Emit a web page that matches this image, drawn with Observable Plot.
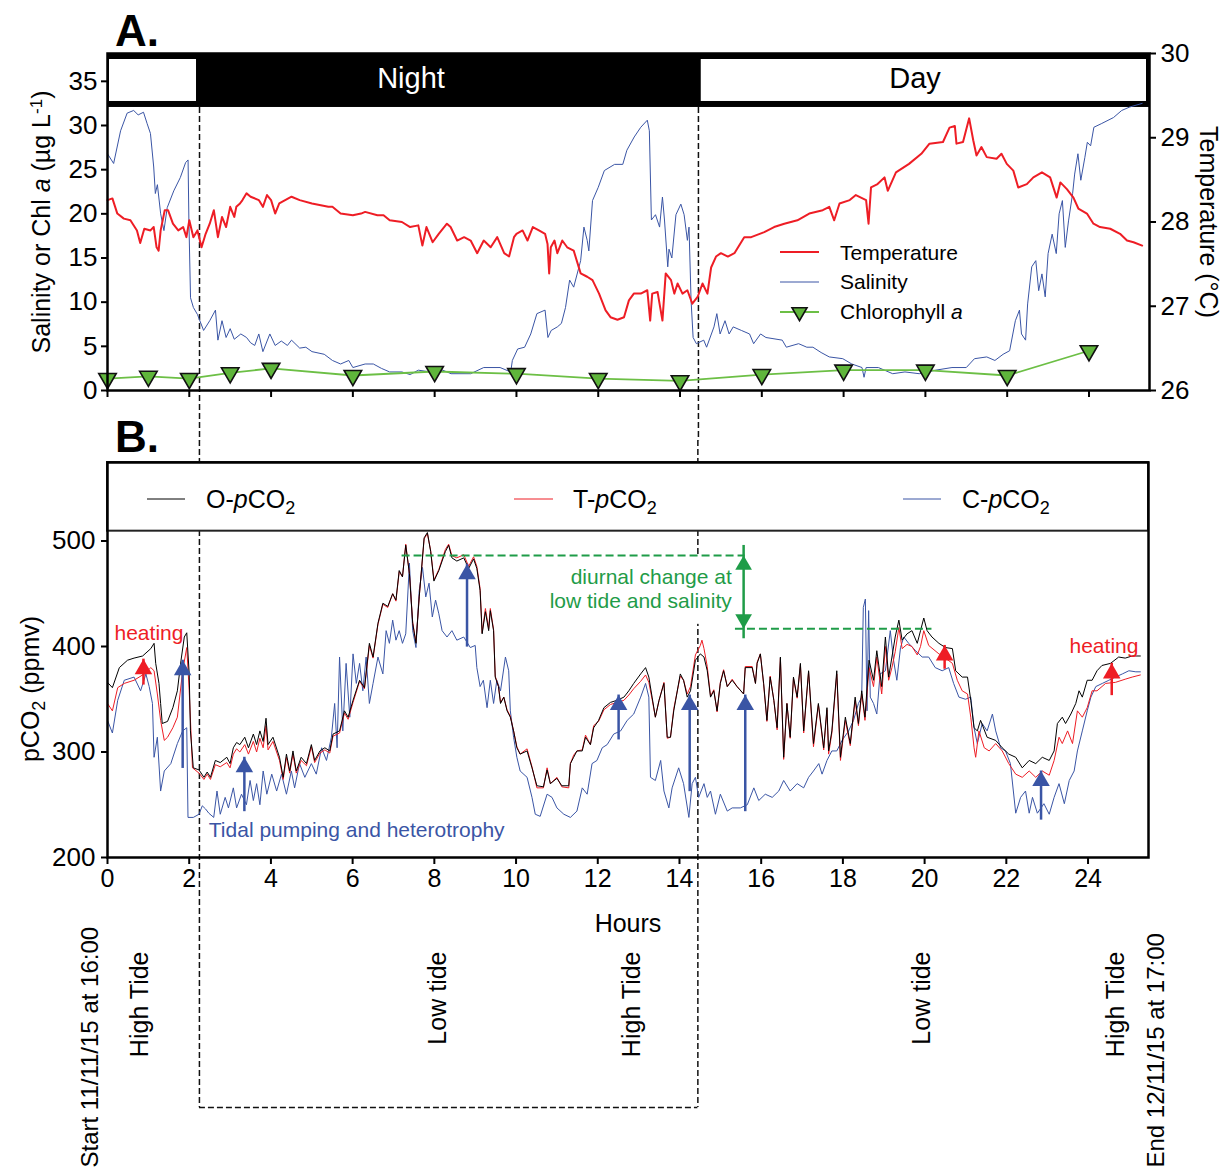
<!DOCTYPE html>
<html><head><meta charset="utf-8">
<script src="https://cdn.jsdelivr.net/npm/d3@7"></script>
<script src="https://cdn.jsdelivr.net/npm/@observablehq/plot@0.6"></script>
<style>
body{margin:0;background:#fff;}
#wrap{position:relative;width:1225px;height:1169px;font-family:"Liberation Sans",Arial,sans-serif;overflow:hidden;background:#fff}
#wrap svg.plot{position:absolute;left:0}
.t{position:absolute;white-space:nowrap;line-height:1;}
.sub{font-size:0.72em;position:relative;top:0.32em}
.sup{font-size:0.68em;position:relative;top:-0.5em}
</style></head><body><div id="wrap"></div>
<script>
// ---------- data ----------
const hourTicks = [0,2,4,6,8,10,12,14,16,18,20,22,24];
const salTicks = [0,5,10,15,20,25,30,35];
const tempTicks = [26,27,28,29,30];
const pTicks = [200,300,400,500];

// Salinity (panel A, left axis) [hour, salinity]
const salinity = [[0,26.8],[0.15,25.7],[0.32,29.4],[0.48,31.4],[0.64,31.7],[0.75,31.2],[0.88,31.5],[0.97,30.2],[1.05,29.1],[1.13,25.3],[1.17,22.3],[1.22,23.3],[1.3,20.0],[1.38,18.1],[1.46,20.7],[1.62,22.6],[1.78,24.1],[1.91,25.8],[1.97,26.1],[1.99,19.3],[2.03,10.5],[2.1,9.4],[2.2,8.6],[2.35,6.8],[2.5,7.9],[2.64,9.1],[2.7,5.7],[2.8,7.9],[2.9,6.0],[3.0,7.0],[3.1,5.8],[3.26,6.4],[3.4,6.0],[3.5,5.4],[3.6,5.1],[3.7,6.4],[3.8,4.4],[3.97,6.4],[4.1,5.1],[4.25,5.6],[4.4,5.1],[4.5,5.7],[4.7,4.8],[4.85,4.9],[5.0,4.4],[5.3,4.1],[5.5,3.4],[5.7,3.0],[5.9,3.4],[6.0,2.6],[6.3,3.0],[6.5,3.0],[6.7,2.5],[6.9,2.1],[7.2,2.1],[7.4,1.8],[7.6,2.3],[7.9,2.1],[8.2,2.3],[8.4,1.9],[8.88,1.9],[9.2,2.6],[9.6,2.6],[9.86,2.1],[9.9,3.4],[10.03,4.7],[10.2,4.9],[10.35,6.4],[10.5,8.7],[10.7,9.1],[10.77,6.0],[10.85,6.8],[11.0,7.2],[11.1,7.6],[11.2,9.4],[11.3,12.5],[11.4,11.7],[11.57,14.7],[11.65,18.5],[11.73,17.0],[11.77,15.8],[11.86,21.5],[12.0,23.0],[12.15,24.9],[12.4,25.6],[12.6,25.6],[12.7,27.2],[12.88,28.7],[13.04,29.8],[13.2,30.6],[13.25,29.4],[13.3,19.3],[13.4,19.9],[13.5,18.5],[13.57,21.9],[13.62,19.3],[13.7,14.0],[13.73,16.0],[13.8,15.0],[13.9,19.9],[14.02,21.1],[14.1,19.9],[14.18,17.0],[14.22,18.5],[14.27,10.2],[14.32,6.0],[14.4,5.3],[14.58,5.7],[14.65,4.9],[14.83,7.2],[14.9,8.7],[14.98,6.4],[15.1,7.9],[15.2,6.4],[15.3,7.2],[15.5,6.8],[15.7,6.4],[15.8,5.3],[15.97,6.4],[16.1,6.0],[16.5,5.7],[16.6,4.9],[16.9,5.3],[17.1,4.9],[17.25,4.9],[17.45,4.3],[17.65,3.8],[17.98,3.6],[18.2,3.0],[18.45,2.6],[18.5,1.5],[18.55,2.6],[18.85,2.6],[19.2,1.9],[19.5,2.1],[19.85,1.9],[20.25,2.3],[20.65,2.6],[21.0,2.6],[21.2,3.6],[21.5,3.8],[21.7,3.4],[21.9,4.1],[22.06,4.5],[22.2,7.9],[22.3,9.1],[22.35,6.4],[22.45,5.7],[22.5,9.8],[22.6,14.0],[22.7,14.7],[22.77,11.3],[22.85,13.2],[22.93,10.6],[23.0,15.5],[23.1,17.7],[23.2,15.5],[23.27,20.0],[23.35,21.5],[23.42,16.2],[23.5,19.2],[23.6,22.3],[23.65,24.5],[23.73,26.8],[23.8,23.8],[23.9,26.4],[23.96,28.1],[24.04,27.7],[24.12,29.8],[24.3,30.2],[24.6,30.9],[24.8,31.7],[25.0,32.1],[25.15,32.3],[25.3,32.5]];

// Temperature (panel A, right axis, °C) [hour, °C]
const temperature = [[0,28.26],[0.12,28.28],[0.24,28.1],[0.4,28.04],[0.56,28.02],[0.72,27.9],[0.8,27.75],[0.9,27.92],[1.05,27.9],[1.13,27.94],[1.2,27.7],[1.25,27.66],[1.3,27.9],[1.4,28.14],[1.48,28.14],[1.6,27.98],[1.73,27.9],[1.85,27.94],[1.93,27.82],[2.0,28.02],[2.1,27.82],[2.2,27.9],[2.3,27.7],[2.4,27.86],[2.5,27.98],[2.6,28.14],[2.7,27.82],[2.8,28.06],[2.9,27.94],[3.0,28.18],[3.1,28.06],[3.15,28.18],[3.24,28.22],[3.3,28.26],[3.4,28.34],[3.5,28.3],[3.7,28.26],[3.8,28.18],[3.9,28.32],[4.0,28.26],[4.1,28.1],[4.2,28.22],[4.5,28.3],[4.7,28.26],[5.0,28.22],[5.4,28.18],[5.5,28.18],[5.7,28.1],[6.0,28.08],[6.2,28.1],[6.3,28.12],[6.6,28.08],[6.75,28.08],[6.9,28.02],[7.2,28.0],[7.4,27.94],[7.6,27.96],[7.7,27.72],[7.8,27.94],[7.95,27.76],[8.1,27.86],[8.3,27.98],[8.39,27.94],[8.55,27.78],[8.72,27.82],[8.88,27.78],[9.04,27.63],[9.2,27.78],[9.37,27.7],[9.53,27.82],[9.7,27.63],[9.82,27.59],[9.94,27.82],[10.0,27.86],[10.15,27.9],[10.27,27.78],[10.4,27.94],[10.55,27.9],[10.7,27.86],[10.76,27.74],[10.8,27.39],[10.84,27.7],[10.93,27.78],[11.0,27.63],[11.12,27.78],[11.24,27.7],[11.4,27.66],[11.57,27.39],[11.73,27.35],[11.86,27.31],[12.02,27.15],[12.18,26.95],[12.3,26.87],[12.47,26.84],[12.63,26.87],[12.75,27.07],[12.87,27.15],[13.04,27.15],[13.2,27.19],[13.27,26.83],[13.32,27.15],[13.45,27.17],[13.57,26.83],[13.65,27.39],[13.78,27.31],[13.86,27.15],[13.94,27.27],[14.06,27.15],[14.18,27.19],[14.3,27.03],[14.43,27.11],[14.55,27.27],[14.67,27.15],[14.76,27.46],[14.88,27.59],[15.0,27.63],[15.17,27.59],[15.33,27.63],[15.57,27.82],[15.74,27.82],[16.06,27.88],[16.3,27.94],[16.55,27.98],[16.87,28.02],[17.16,28.1],[17.49,28.14],[17.65,28.18],[17.77,28.02],[17.9,28.22],[18.15,28.26],[18.3,28.32],[18.55,28.26],[18.61,27.98],[18.67,28.41],[18.83,28.45],[19.0,28.53],[19.08,28.37],[19.28,28.59],[19.6,28.69],[19.9,28.81],[20.1,28.93],[20.43,28.95],[20.59,29.12],[20.72,29.14],[20.76,28.93],[20.92,28.95],[21.07,29.23],[21.17,28.97],[21.25,28.79],[21.37,28.89],[21.5,28.77],[21.74,28.75],[21.86,28.81],[21.99,28.69],[22.15,28.61],[22.27,28.41],[22.48,28.45],[22.64,28.53],[22.85,28.59],[23.05,28.53],[23.21,28.29],[23.3,28.47],[23.46,28.39],[23.62,28.29],[23.74,28.16],[23.95,28.1],[24.11,27.98],[24.27,27.94],[24.52,27.92],[24.76,27.86],[24.93,27.78],[25.09,27.76],[25.3,27.72]];

// Chlorophyll a (µg/L) [hour, value]
const chlorophyll = [[0,1.35],[1,1.6],[2,1.35],[3,2.0],[4,2.5],[6,1.7],[8,2.15],[10,1.9],[12,1.35],[14,1.1],[16,1.8],[18,2.3],[20,2.3],[22,1.7],[24,4.5]];

// O-pCO2 (ppmv) [hour, value]
const oPCO2 = [[0,366],[0.12,361],[0.29,380],[0.49,387],[0.65,389],[0.86,391],[1.06,398],[1.14,403],[1.18,384],[1.26,365],[1.3,346],[1.34,327],[1.47,329],[1.6,342],[1.71,358],[1.8,387],[1.88,409],[1.94,413],[2.0,374],[2.03,320],[2.1,285],[2.24,283],[2.36,276],[2.44,281],[2.52,276],[2.64,292],[2.76,290],[2.92,295],[3.0,289],[3.08,304],[3.16,309],[3.24,307],[3.36,314],[3.45,304],[3.57,317],[3.65,307],[3.73,320],[3.81,310],[3.88,332],[3.93,307],[4.05,314],[4.21,295],[4.3,276],[4.38,298],[4.46,282],[4.54,301],[4.62,282],[4.74,295],[4.87,289],[4.99,307],[5.07,292],[5.2,301],[5.32,304],[5.44,301],[5.52,317],[5.68,320],[5.8,339],[5.89,333],[6.01,349],[6.17,368],[6.29,361],[6.41,403],[6.5,390],[6.62,422],[6.74,441],[6.86,438],[6.98,450],[7.06,444],[7.14,472],[7.22,466],[7.3,496],[7.39,469],[7.47,422],[7.55,403],[7.63,447],[7.75,503],[7.83,508],[7.91,490],[7.99,462],[8.11,472],[8.27,490],[8.35,496],[8.43,484],[8.55,481],[8.72,484],[8.84,474],[8.96,483],[9.04,474],[9.12,453],[9.17,412],[9.25,433],[9.33,415],[9.37,434],[9.45,415],[9.49,371],[9.57,362],[9.62,346],[9.7,352],[9.78,339],[9.86,333],[9.94,320],[10.02,304],[10.1,298],[10.27,301],[10.39,285],[10.51,268],[10.67,267],[10.76,283],[10.84,270],[11.0,275],[11.12,268],[11.29,268],[11.33,289],[11.41,295],[11.49,301],[11.62,301],[11.7,314],[11.82,307],[11.9,323],[12.02,330],[12.15,342],[12.31,347],[12.47,349],[12.64,352],[12.76,358],[12.88,365],[13.05,374],[13.17,380],[13.25,371],[13.33,352],[13.41,333],[13.5,349],[13.62,365],[13.7,314],[13.78,314],[13.86,339],[14.02,374],[14.1,368],[14.19,352],[14.27,358],[14.39,387],[14.51,393],[14.6,390],[14.68,377],[14.76,352],[14.84,358],[14.92,339],[15.0,365],[15.08,377],[15.17,362],[15.29,368],[15.41,362],[15.57,355],[15.61,380],[15.78,380],[15.86,365],[15.9,384],[15.98,393],[16.06,365],[16.14,330],[16.22,371],[16.31,349],[16.39,323],[16.47,390],[16.55,295],[16.63,346],[16.71,314],[16.79,371],[16.88,352],[16.96,384],[17.04,320],[17.16,377],[17.28,308],[17.4,346],[17.53,304],[17.61,342],[17.65,301],[17.73,320],[17.85,377],[17.94,295],[18.06,333],[18.18,308],[18.3,352],[18.38,327],[18.46,358],[18.54,333],[18.64,387],[18.75,368],[18.83,396],[18.95,362],[19.04,409],[19.12,371],[19.2,390],[19.28,409],[19.37,425],[19.45,406],[19.57,412],[19.69,415],[19.82,403],[19.9,415],[19.98,427],[20.06,415],[20.18,409],[20.35,403],[20.51,399],[20.68,398],[20.76,377],[20.92,371],[21.05,371],[21.13,349],[21.21,323],[21.29,320],[21.37,330],[21.53,314],[21.74,311],[21.9,304],[22.06,298],[22.23,295],[22.39,285],[22.56,292],[22.72,289],[22.88,295],[23.05,292],[23.17,301],[23.25,327],[23.37,333],[23.45,327],[23.58,336],[23.7,346],[23.78,358],[23.86,352],[23.98,368],[24.1,368],[24.22,377],[24.34,382],[24.55,384],[24.75,390],[24.91,389],[25.08,391],[25.28,391]];

// T-pCO2 (ppmv) [hour, value]
const tPCO2 = [[0,346],[0.12,339],[0.25,361],[0.41,365],[0.65,368],[0.9,374],[1.06,380],[1.14,377],[1.22,355],[1.3,330],[1.39,311],[1.47,314],[1.6,323],[1.71,333],[1.84,377],[1.94,399],[2.0,358],[2.08,285],[2.24,280],[2.36,274],[2.44,279],[2.52,274],[2.64,288],[2.76,286],[2.92,290],[3.0,285],[3.08,298],[3.16,303],[3.24,300],[3.36,307],[3.45,298],[3.57,310],[3.65,300],[3.73,313],[3.81,304],[3.88,325],[3.93,302],[4.05,310],[4.21,292],[4.3,274],[4.38,295],[4.46,280],[4.54,298],[4.62,280],[4.74,292],[4.87,287],[4.99,305],[5.07,290],[5.2,299],[5.32,302],[5.44,299],[5.52,315],[5.68,318],[5.8,337],[5.89,331],[6.01,347],[6.17,367],[6.29,360],[6.41,401],[6.5,389],[6.62,421],[6.74,440],[6.86,437],[6.98,450],[7.06,443],[7.14,471],[7.22,466],[7.3,497],[7.39,469],[7.47,423],[7.55,404],[7.63,447],[7.75,502],[7.83,507],[7.91,491],[7.99,463],[8.11,473],[8.27,492],[8.35,497],[8.43,486],[8.55,484],[8.72,487],[8.84,476],[8.96,485],[9.04,476],[9.12,455],[9.17,413],[9.25,436],[9.33,417],[9.37,436],[9.45,416],[9.49,372],[9.57,362],[9.62,347],[9.7,352],[9.78,340],[9.86,334],[9.94,320],[10.02,305],[10.1,298],[10.27,303],[10.39,286],[10.51,266],[10.67,266],[10.76,285],[10.84,270],[11.0,276],[11.12,267],[11.29,266],[11.33,289],[11.41,297],[11.49,301],[11.62,302],[11.7,316],[11.82,307],[11.9,325],[12.02,329],[12.15,340],[12.31,345],[12.47,347],[12.64,349],[12.76,354],[12.88,360],[13.05,367],[13.17,373],[13.25,366],[13.33,350],[13.41,333],[13.5,349],[13.62,366],[13.7,313],[13.78,314],[13.86,341],[14.02,372],[14.1,368],[14.19,355],[14.27,362],[14.39,392],[14.51,401],[14.55,406],[14.6,398],[14.68,381],[14.76,353],[14.84,359],[14.92,338],[15.0,366],[15.08,378],[15.17,362],[15.29,369],[15.41,362],[15.57,355],[15.61,381],[15.78,381],[15.86,365],[15.9,385],[15.98,393],[16.06,364],[16.14,329],[16.22,372],[16.31,349],[16.39,321],[16.47,389],[16.55,293],[16.63,346],[16.71,313],[16.79,370],[16.88,351],[16.96,383],[17.04,318],[17.16,376],[17.28,305],[17.4,345],[17.53,302],[17.61,340],[17.65,298],[17.73,318],[17.85,374],[17.94,292],[18.06,330],[18.18,306],[18.3,349],[18.38,325],[18.46,355],[18.54,330],[18.64,380],[18.75,362],[18.83,390],[18.95,355],[19.04,400],[19.12,368],[19.2,380],[19.28,395],[19.37,418],[19.45,398],[19.57,402],[19.69,400],[19.82,392],[19.9,400],[19.98,415],[20.1,401],[20.35,393],[20.51,389],[20.68,384],[20.8,368],[20.92,358],[21.05,355],[21.13,333],[21.21,304],[21.25,295],[21.33,320],[21.46,304],[21.58,301],[21.74,308],[21.9,301],[22.06,289],[22.23,279],[22.39,276],[22.56,282],[22.72,276],[22.88,282],[23.05,278],[23.17,292],[23.29,314],[23.37,308],[23.5,320],[23.62,308],[23.74,339],[23.86,333],[23.98,342],[24.1,358],[24.22,358],[24.43,365],[24.67,366],[24.91,369],[25.08,371],[25.28,373]];

// C-pCO2 (ppmv) [hour, value]
const cPCO2 = [[0,330],[0.12,318],[0.25,349],[0.41,368],[0.65,371],[0.81,358],[0.94,374],[1.02,362],[1.1,346],[1.14,295],[1.22,314],[1.3,263],[1.39,282],[1.55,289],[1.71,308],[1.84,320],[1.94,323],[1.97,238],[2.1,238],[2.24,241],[2.32,249],[2.4,246],[2.48,242],[2.6,238],[2.68,263],[2.76,241],[2.88,257],[2.96,247],[3.08,266],[3.16,247],[3.28,260],[3.4,250],[3.49,273],[3.57,254],[3.65,270],[3.73,250],[3.81,282],[3.9,260],[4.02,279],[4.14,263],[4.26,279],[4.38,260],[4.5,282],[4.58,266],[4.7,289],[4.83,276],[4.99,289],[5.11,279],[5.24,304],[5.36,292],[5.48,314],[5.56,346],[5.62,304],[5.68,390],[5.76,320],[5.84,384],[5.93,333],[6.01,393],[6.09,365],[6.17,384],[6.25,358],[6.33,390],[6.41,346],[6.5,365],[6.62,390],[6.74,374],[6.82,415],[6.9,403],[6.98,425],[7.06,406],[7.14,415],[7.22,403],[7.3,412],[7.39,479],[7.47,415],[7.55,399],[7.63,453],[7.71,475],[7.79,447],[7.87,460],[7.95,428],[8.03,444],[8.11,431],[8.19,415],[8.31,409],[8.43,415],[8.55,406],[8.72,409],[8.88,399],[9.0,401],[9.04,380],[9.12,362],[9.2,368],[9.29,342],[9.37,368],[9.45,346],[9.53,368],[9.62,358],[9.74,390],[9.82,377],[9.86,339],[9.94,314],[10.02,295],[10.1,282],[10.27,276],[10.39,257],[10.47,241],[10.59,239],[10.76,260],[10.88,257],[11.0,247],[11.17,241],[11.33,238],[11.49,244],[11.62,266],[11.74,260],[11.86,289],[11.98,292],[12.11,304],[12.23,307],[12.39,317],[12.56,320],[12.72,330],[12.88,336],[13.05,352],[13.17,365],[13.25,352],[13.29,276],[13.41,273],[13.54,292],[13.62,263],[13.74,247],[13.82,266],[13.98,285],[14.1,270],[14.23,238],[14.31,270],[14.39,276],[14.47,257],[14.6,270],[14.68,257],[14.76,263],[14.88,241],[15.0,260],[15.17,244],[15.29,247],[15.49,247],[15.66,250],[15.82,266],[15.94,254],[16.1,260],[16.27,257],[16.43,263],[16.55,273],[16.71,263],[16.88,270],[17.04,266],[17.16,276],[17.28,282],[17.41,289],[17.49,279],[17.61,292],[17.73,301],[17.85,301],[17.98,311],[18.14,320],[18.26,330],[18.38,346],[18.46,352],[18.5,437],[18.55,445],[18.59,339],[18.63,434],[18.67,352],[18.75,346],[18.83,336],[18.91,374],[19.04,377],[19.16,415],[19.24,387],[19.32,368],[19.41,399],[19.49,409],[19.61,403],[19.78,396],[19.94,390],[20.1,390],[20.26,380],[20.43,377],[20.59,380],[20.71,365],[20.84,352],[21.0,350],[21.13,352],[21.21,323],[21.29,308],[21.41,327],[21.53,320],[21.66,336],[21.74,320],[21.86,304],[21.98,301],[22.1,289],[22.23,242],[22.35,257],[22.47,263],[22.56,242],[22.64,257],[22.76,242],[22.92,251],[23.05,241],[23.17,257],[23.29,270],[23.42,251],[23.54,273],[23.66,282],[23.74,301],[23.86,320],[23.98,339],[24.07,352],[24.19,362],[24.35,365],[24.51,368],[24.67,371],[24.84,374],[25.0,377],[25.17,376],[25.28,376]];

// Day / night periods (hours)
const periodStart = [0, 2.25, 14.47];
const periodEnd = [2.25, 14.47, 25.48];
const periodIsLight = [true, false, true];
const sunBoundaries = [2.25, 14.45];

// Arrows [hour, from ppmv, to ppmv]
const blueArrows = [[1.84,292,387],[3.35,251,295],[8.8,407,478],[12.51,319,354],[14.25,270,354],[15.61,251,354],[22.85,243,282]];
const redArrows = [[0.88,371,388],[20.49,386,401],[24.58,361,384]];
// diurnal change bracket
const diurnalHigh = {x1: 7.21, x2: 15.61, y: 486.3};
const diurnalLow = {x1: 15.37, x2: 20.18, y: 416.8};
const diurnalArrowX = 15.57;
const diurnalTextBox = {x1: 10.8, x2: 15.3, y1: 421, y2: 484.5};

// ---------- scales/extent ----------
const X_MAX = 25.48;
const S_MAX = 38.15;
const BAR_BOTTOM = 32.04;
const kT = S_MAX / 4;
const toS = t => (t - 26) * kT;
const P_MAX = 574.4;
const LEGEND_BOTTOM = 509.3;

const FONT = "Liberation Sans, Arial, sans-serif";
const RED = "#ee1d25", BLUE = "#3a55a5", GREEN = "#1f9c48", CHL = "#6cbf45";

const wrap = document.getElementById("wrap");

// ---------- Panel A ----------
const lightPeriods = periodStart.map((s, i) => ({s, e: periodEnd[i], light: periodIsLight[i]})).filter(d => d.light);
const salObj = salinity.map(([h, v]) => ({h, v}));
const tempObj = temperature.map(([h, v]) => ({h, v}));
const chlObj = chlorophyll.map(([h, v]) => ({h, v}));

const plotA = Plot.plot({
  width: 1225, height: 440,
  marginLeft: 107, marginRight: 76, marginTop: 53, marginBottom: 50,
  style: {fontFamily: FONT, fontSize: "26px", background: "transparent", color: "#000", overflow: "visible"},
  x: {domain: [0, X_MAX]},
  y: {domain: [0, S_MAX]},
  marks: [
    Plot.rect([0], {x1: 0, x2: X_MAX, y1: BAR_BOTTOM, y2: S_MAX, fill: "black"}),
    Plot.rect(lightPeriods, {x1: "s", x2: "e", y1: BAR_BOTTOM, y2: S_MAX, fill: "white", insetTop: 6, insetBottom: 6, insetLeft: 2, insetRight: 3}),
    Plot.ruleX(sunBoundaries, {y1: BAR_BOTTOM, y2: -5.7, stroke: "#111", strokeWidth: 1.5, strokeDasharray: "6,3"}),
    Plot.line(salObj, {x: "h", y: "v", stroke: BLUE, strokeWidth: 1}),
    Plot.line(tempObj, {x: "h", y: d => toS(d.v), stroke: RED, strokeWidth: 2}),
    Plot.line(chlObj, {x: "h", y: "v", stroke: CHL, strokeWidth: 1.8}),
    Plot.dot(chlObj, {x: "h", y: "v", symbol: "triangle", rotate: 180, r: 6.5, fill: "#5fb53b", stroke: "#111", strokeWidth: 1.6}),
    Plot.axisX(hourTicks, {tickSize: 7, tickFormat: () => "", strokeWidth: 2, label: null}),
    Plot.axisY(salTicks, {anchor: "left", tickSize: 6, tickPadding: 4, fontSize: 26, strokeWidth: 2, label: null}),
    Plot.axisY(tempTicks.map(toS), {anchor: "right", tickSize: 6, tickPadding: 5, fontSize: 26, strokeWidth: 2, label: null, tickFormat: d => String(Math.round(d / kT + 26))}),
    Plot.frame({strokeWidth: 2.5})
  ]
});
plotA.classList.add("plot");
plotA.style.top = "0px";
wrap.appendChild(plotA);

// ---------- Panel B ----------
const oObj = oPCO2.map(([h, v]) => ({h, v}));
const tObj = tPCO2.map(([h, v]) => ({h, v}));
const cObj = cPCO2.map(([h, v]) => ({h, v}));
const blueA = blueArrows.map(([h, a, b]) => ({h, a, b}));
const redA = redArrows.map(([h, a, b]) => ({h, a, b}));

const tideLabels = [
  {h: 0.98, text: "High Tide"}, {h: 8.28, text: "Low tide"}, {h: 13.03, text: "High Tide"},
  {h: 20.12, text: "Low tide"}, {h: 24.88, text: "High Tide"}
];
const endLabels = [{h: -0.23, text: "Start 11/11/15 at 16:00"}, {h: 25.86, text: "End 12/11/15 at 17:00"}];

const plotB = Plot.plot({
  width: 1225, height: 729,
  marginLeft: 107, marginRight: 77, marginTop: 22, marginBottom: 312,
  style: {fontFamily: FONT, fontSize: "26px", background: "transparent", color: "#000", overflow: "visible"},
  x: {domain: [0, X_MAX]},
  y: {domain: [200, P_MAX]},
  marks: [
    Plot.ruleX(sunBoundaries, {y1: 595.3, y2: -37, stroke: "#111", strokeWidth: 1.5, strokeDasharray: "6,3"}),
    Plot.ruleY([-37], {x1: sunBoundaries[0], x2: sunBoundaries[1], stroke: "#111", strokeWidth: 1.5, strokeDasharray: "6,3"}),
    Plot.rect([0], {x1: 0, x2: X_MAX, y1: LEGEND_BOTTOM, y2: P_MAX, fill: "white", stroke: "#222", strokeWidth: 2}),
    Plot.rect([diurnalTextBox], {x1: "x1", x2: "x2", y1: "y1", y2: "y2", fill: "white"}),
    Plot.line(cObj, {x: "h", y: "v", stroke: BLUE, strokeWidth: 1}),
    Plot.line(tObj, {x: "h", y: "v", stroke: RED, strokeWidth: 1}),
    Plot.line(oObj, {x: "h", y: "v", stroke: "#000", strokeWidth: 1}),
    // diurnal change bracket
    Plot.ruleY([diurnalHigh], {x1: "x1", x2: "x2", y: "y", stroke: GREEN, strokeWidth: 2, strokeDasharray: "8,4"}),
    Plot.ruleY([diurnalLow], {x1: "x1", x2: "x2", y: "y", stroke: GREEN, strokeWidth: 2, strokeDasharray: "8,4"}),
    Plot.ruleX([diurnalArrowX], {y1: diurnalLow.y, y2: diurnalHigh.y, stroke: GREEN, strokeWidth: 2.5, insetTop: 10, insetBottom: 10}),
    Plot.dot([diurnalArrowX], {x: d => d, y: diurnalHigh.y, symbol: "triangle", r: 6.2, fill: GREEN, dy: 9.6}),
    Plot.dot([diurnalArrowX], {x: d => d, y: diurnalLow.y, symbol: "triangle", rotate: 180, r: 6.2, fill: GREEN, dy: -9.6}),
    // process arrows
    Plot.ruleX(blueA, {x: "h", y1: "a", y2: "b", stroke: BLUE, strokeWidth: 2.5, insetTop: 8}),
    Plot.dot(blueA, {x: "h", y: "b", symbol: "triangle", r: 6.5, fill: BLUE, dy: 10}),
    Plot.ruleX(redA, {x: "h", y1: "a", y2: "b", stroke: RED, strokeWidth: 2.5, insetTop: 8}),
    Plot.dot(redA, {x: "h", y: "b", symbol: "triangle", r: 6.5, fill: RED, dy: 10}),
    // annotation text
    Plot.text(["heating"], {x: 1.015, y: 413, fill: RED, fontSize: 21, textAnchor: "middle"}),
    Plot.text(["heating"], {x: 24.39, y: 400, fill: RED, fontSize: 21, textAnchor: "middle"}),
    Plot.text(["Tidal pumping and heterotrophy"], {x: 2.48, y: 225.6, fill: BLUE, fontSize: 21, textAnchor: "start"}),
    Plot.text(["diurnal change at", "low tide and salinity"], {x: 15.28, y: [465.4, 442.6], fill: GREEN, fontSize: 21, textAnchor: "end"}),
    // bottom timeline labels
    Plot.text(tideLabels, {x: "h", text: "text", frameAnchor: "bottom", dy: 94, rotate: -90, textAnchor: "end", fontSize: 25, fill: "#000"}),
    Plot.text(endLabels, {x: "h", text: "text", frameAnchor: "bottom", dy: 310, rotate: -90, textAnchor: "start", fontSize: 24, fill: "#000"}),
    Plot.axisX(hourTicks, {tickSize: 7, tickPadding: 5, fontSize: 25, strokeWidth: 2, label: null}),
    Plot.axisY(pTicks, {anchor: "left", tickSize: 6, tickPadding: 6, fontSize: 26, strokeWidth: 2, label: null}),
    Plot.frame({strokeWidth: 2.5})
  ]
});
plotB.classList.add("plot");
plotB.style.top = "440px";
wrap.appendChild(plotB);

// ---------- HTML labels / legends ----------
function label(html, x, y, o = {}) {
  const d = document.createElement("div");
  d.className = "t";
  d.innerHTML = html;
  d.style.left = x + "px";
  d.style.top = y + "px";
  d.style.fontSize = (o.size || 25) + "px";
  if (o.weight) d.style.fontWeight = o.weight;
  d.style.color = o.color || "#000";
  const ax = o.anchor === "start" ? "0" : "-50%";
  d.style.transform = `translate(${ax},-50%)` + (o.rotate ? ` rotate(${o.rotate}deg)` : "");
  wrap.appendChild(d);
  return d;
}
function swatch(x1, x2, y, color, w, tri) {
  const s = document.createElementNS("http://www.w3.org/2000/svg", "svg");
  s.setAttribute("width", x2 - x1 + 20);
  s.setAttribute("height", 24);
  s.style.position = "absolute";
  s.style.left = (x1 - 10) + "px";
  s.style.top = (y - 12) + "px";
  let inner = `<line x1="10" x2="${x2 - x1 + 10}" y1="12" y2="12" stroke="${color}" stroke-width="${w}"/>`;
  if (tri) {
    const c = (x2 - x1) / 2 + 10;
    inner += `<path d="M${c - 7.5},${12 - 4.3} L${c + 7.5},${12 - 4.3} L${c},${12 + 8.6} Z" fill="#5fb53b" stroke="#111" stroke-width="1.6"/>`;
  }
  s.innerHTML = inner;
  wrap.appendChild(s);
}

label("A.", 115, 31, {size: 44, weight: "bold", anchor: "start"});
label("B.", 115, 437, {size: 44, weight: "bold", anchor: "start"});
label("Night", 411, 78, {size: 29, color: "#fff"});
label("Day", 915, 78, {size: 29});

label('Salinity or Chl <i>a</i> (µg L<span class="sup">-1</span>)', 41, 222, {size: 25, rotate: -90});
label("Temperature (°C)", 1208, 222, {size: 25, rotate: 90});
label('pCO<span class="sub">2</span> (ppmv)', 30, 689, {size: 25, rotate: -90});
label("Hours", 628, 923, {size: 25});

// Legend A
swatch(780, 819, 252, RED, 2);
swatch(780, 819, 282, BLUE, 1);
swatch(780, 819, 312, CHL, 1.8, true);
label("Temperature", 840, 252, {size: 21, anchor: "start"});
label("Salinity", 840, 281, {size: 21, anchor: "start"});
label("Chlorophyll <i>a</i>", 840, 311, {size: 21, anchor: "start"});

// Legend B
swatch(147, 185, 499, "#000", 1);
swatch(514, 553, 499, RED, 1);
swatch(903, 941, 499, BLUE, 1);
label('O-<i>p</i>CO<span class="sub">2</span>', 206, 499, {size: 25, anchor: "start"});
label('T-<i>p</i>CO<span class="sub">2</span>', 573, 499, {size: 25, anchor: "start"});
label('C-<i>p</i>CO<span class="sub">2</span>', 962, 499, {size: 25, anchor: "start"});
</script>
</body></html>
